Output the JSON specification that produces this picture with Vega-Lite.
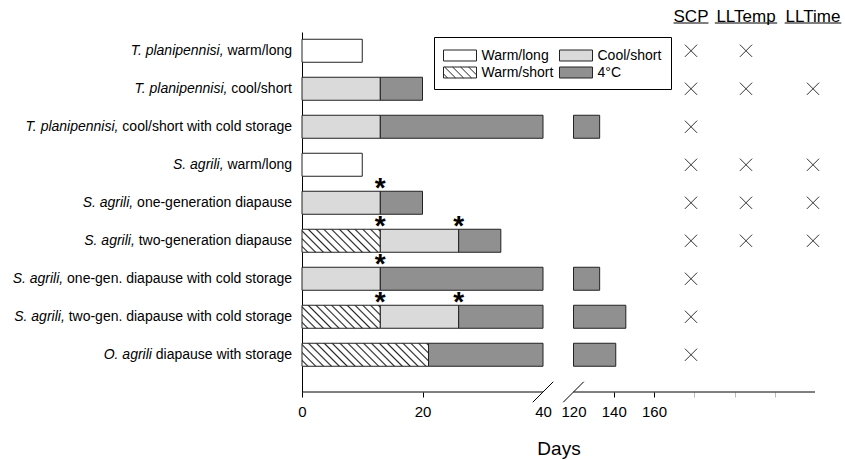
{
  "$schema": "https://vega.github.io/schema/vega-lite/v6.json",
  "width": 513,
  "height": 360,
  "autosize": {"type": "none"},
  "padding": {"left": 302, "top": 32, "right": 30, "bottom": 68},
  "background": "white",
  "config": {"view": {"stroke": null}, "font": "Liberation Sans"},
  "datasets": {
    "bars": [
      {"row": "T. planipennisi, warm/long", "phase": "Warm/long", "day": 0, "dayEnd": 10},
      {"row": "T. planipennisi, cool/short", "phase": "Cool/short", "day": 0, "dayEnd": 13},
      {"row": "T. planipennisi, cool/short", "phase": "4°C", "day": 13, "dayEnd": 20},
      {"row": "T. planipennisi, cool/short with cold storage", "phase": "Cool/short", "day": 0, "dayEnd": 13},
      {"row": "T. planipennisi, cool/short with cold storage", "phase": "4°C", "day": 13, "dayEnd": 40},
      {"row": "T. planipennisi, cool/short with cold storage", "phase": "4°C", "day": 120, "dayEnd": 133},
      {"row": "S. agrili, warm/long", "phase": "Warm/long", "day": 0, "dayEnd": 10},
      {"row": "S. agrili, one-generation diapause", "phase": "Cool/short", "day": 0, "dayEnd": 13},
      {"row": "S. agrili, one-generation diapause", "phase": "4°C", "day": 13, "dayEnd": 20},
      {"row": "S. agrili, two-generation diapause", "phase": "Warm/short", "day": 0, "dayEnd": 13},
      {"row": "S. agrili, two-generation diapause", "phase": "Cool/short", "day": 13, "dayEnd": 26},
      {"row": "S. agrili, two-generation diapause", "phase": "4°C", "day": 26, "dayEnd": 33},
      {"row": "S. agrili, one-gen. diapause with cold storage", "phase": "Cool/short", "day": 0, "dayEnd": 13},
      {"row": "S. agrili, one-gen. diapause with cold storage", "phase": "4°C", "day": 13, "dayEnd": 40},
      {"row": "S. agrili, one-gen. diapause with cold storage", "phase": "4°C", "day": 120, "dayEnd": 133},
      {"row": "S. agrili, two-gen. diapause with cold storage", "phase": "Warm/short", "day": 0, "dayEnd": 13},
      {"row": "S. agrili, two-gen. diapause with cold storage", "phase": "Cool/short", "day": 13, "dayEnd": 26},
      {"row": "S. agrili, two-gen. diapause with cold storage", "phase": "4°C", "day": 26, "dayEnd": 40},
      {"row": "S. agrili, two-gen. diapause with cold storage", "phase": "4°C", "day": 120, "dayEnd": 146},
      {"row": "O. agrili diapause with storage", "phase": "Warm/short", "day": 0, "dayEnd": 21},
      {"row": "O. agrili diapause with storage", "phase": "4°C", "day": 21, "dayEnd": 40},
      {"row": "O. agrili diapause with storage", "phase": "4°C", "day": 120, "dayEnd": 141}
    ],
    "labels": [
      {"row": "T. planipennisi, warm/long", "sp": "T. planipennisi,", "rest": "warm/long"},
      {"row": "T. planipennisi, cool/short", "sp": "T. planipennisi,", "rest": "cool/short"},
      {"row": "T. planipennisi, cool/short with cold storage", "sp": "T. planipennisi,", "rest": "cool/short with cold storage"},
      {"row": "S. agrili, warm/long", "sp": "S. agrili,", "rest": "warm/long"},
      {"row": "S. agrili, one-generation diapause", "sp": "S. agrili,", "rest": "one-generation diapause"},
      {"row": "S. agrili, two-generation diapause", "sp": "S. agrili,", "rest": "two-generation diapause"},
      {"row": "S. agrili, one-gen. diapause with cold storage", "sp": "S. agrili,", "rest": "one-gen. diapause with cold storage"},
      {"row": "S. agrili, two-gen. diapause with cold storage", "sp": "S. agrili,", "rest": "two-gen. diapause with cold storage"},
      {"row": "O. agrili diapause with storage", "sp": "O. agrili", "rest": "diapause with storage"}
    ],
    "stars": [
      {"row": "S. agrili, one-generation diapause", "day": 13},
      {"row": "S. agrili, two-generation diapause", "day": 13},
      {"row": "S. agrili, two-generation diapause", "day": 26},
      {"row": "S. agrili, one-gen. diapause with cold storage", "day": 13},
      {"row": "S. agrili, two-gen. diapause with cold storage", "day": 13},
      {"row": "S. agrili, two-gen. diapause with cold storage", "day": 26}
    ],
    "axisLine": [
      {"day": 0, "dayEnd": 40},
      {"day": 120, "dayEnd": 240}
    ],
    "breaks": [{"day": 40}, {"day": 120}],
    "xmarks": [
      {"row": "T. planipennisi, warm/long", "measure": "SCP", "col": 0},
      {"row": "T. planipennisi, warm/long", "measure": "LLTemp", "col": 1},
      {"row": "T. planipennisi, cool/short", "measure": "SCP", "col": 0},
      {"row": "T. planipennisi, cool/short", "measure": "LLTemp", "col": 1},
      {"row": "T. planipennisi, cool/short", "measure": "LLTime", "col": 2},
      {"row": "T. planipennisi, cool/short with cold storage", "measure": "SCP", "col": 0},
      {"row": "S. agrili, warm/long", "measure": "SCP", "col": 0},
      {"row": "S. agrili, warm/long", "measure": "LLTemp", "col": 1},
      {"row": "S. agrili, warm/long", "measure": "LLTime", "col": 2},
      {"row": "S. agrili, one-generation diapause", "measure": "SCP", "col": 0},
      {"row": "S. agrili, one-generation diapause", "measure": "LLTemp", "col": 1},
      {"row": "S. agrili, one-generation diapause", "measure": "LLTime", "col": 2},
      {"row": "S. agrili, two-generation diapause", "measure": "SCP", "col": 0},
      {"row": "S. agrili, two-generation diapause", "measure": "LLTemp", "col": 1},
      {"row": "S. agrili, two-generation diapause", "measure": "LLTime", "col": 2},
      {"row": "S. agrili, one-gen. diapause with cold storage", "measure": "SCP", "col": 0},
      {"row": "S. agrili, two-gen. diapause with cold storage", "measure": "SCP", "col": 0},
      {"row": "O. agrili diapause with storage", "measure": "SCP", "col": 0}
    ],
    "headers": [
      {"col": 0, "name": "SCP"},
      {"col": 1, "name": "LLTemp"},
      {"col": 2, "name": "LLTime"}
    ]
  },
  "encoding": {
    "y": {
      "field": "row",
      "type": "nominal",
      "scale": {
        "domain": [
          "T. planipennisi, warm/long",
          "T. planipennisi, cool/short",
          "T. planipennisi, cool/short with cold storage",
          "S. agrili, warm/long",
          "S. agrili, one-generation diapause",
          "S. agrili, two-generation diapause",
          "S. agrili, one-gen. diapause with cold storage",
          "S. agrili, two-gen. diapause with cold storage",
          "O. agrili diapause with storage"
        ],
        "paddingInner": 0.3947,
        "paddingOuter": 0.4342,
        "align": 0.22
      },
      "axis": {"labels": false, "ticks": false, "title": null, "grid": false, "domainColor": "black", "domainWidth": 1}
    }
  },
  "resolve": {"scale": {"x": "independent"}},
  "layer": [
    {
      "encoding": {
        "x": {
          "field": "day",
          "type": "quantitative",
          "scale": {"domain": [0, 40, 120, 240], "range": [0, 241, 271.5, 513]},
          "axis": {
            "values": [0, 20, 40, 120, 140, 160, 180, 200, 220],
            "labelExpr": "datum.value <= 160 ? datum.label : ''",
            "labelFlush": false,
            "labelOverlap": false,
            "domain": false,
            "grid": false,
            "tickSize": 5,
            "tickColor": {
              "condition": [
                {"test": "datum.value == 40 || datum.value == 120", "value": "transparent"},
                {"test": "datum.value > 160", "value": "#bbbbbb"}
              ],
              "value": "black"
            },
            "labelFont": "Liberation Sans",
            "labelFontSize": 15,
            "labelColor": "black",
            "labelPadding": 7,
            "title": "Days",
            "titleFont": "Liberation Sans",
            "titleFontSize": 19,
            "titleFontWeight": "normal",
            "titleColor": "black",
            "titlePadding": 20
          }
        }
      },
      "layer": [
        {
          "data": {"name": "bars"},
          "mark": {"type": "bar", "stroke": "#222222", "strokeWidth": 1},
          "encoding": {
            "x2": {"field": "dayEnd"},
            "fill": {
              "field": "phase",
              "type": "nominal",
              "scale": {
                "domain": ["Warm/long", "Cool/short", "Warm/short", "4°C"],
                "range": ["#ffffff", "#dadada", "#ffffff", "#909090"]
              },
              "legend": {
                "orient": "none",
                "legendX": 132,
                "legendY": 5,
                "columns": 2,
                "direction": "horizontal",
                "title": null,
                "symbolType": "M-1.833,-0.611H1.833V0.611H-1.833Z",
                "symbolSize": 324,
                "symbolOffset": 7.5,
                "symbolStrokeColor": "#222222",
                "symbolStrokeWidth": 1,
                "labelFont": "Liberation Sans",
                "labelFontSize": 14,
                "labelColor": "black",
                "labelOffset": 12,
                "labelLimit": 200,
                "strokeColor": "black",
                "fillColor": "white",
                "padding": 9,
                "columnPadding": 3,
                "rowPadding": 0,
                "encode": {
                  "symbols": {
                    "update": {
                      "stroke": {"value": "#222222"},
                      "strokeWidth": {"value": 1},
                      "opacity": {"value": 1},
                      "shape": {"signal": "datum.value === 'Warm/short' ? 'M-1.833,-0.611H1.833V0.611H-1.833Z M-1.833,0.156L-1.378,0.611 M-1.711,-0.611L-0.489,0.611 M-0.822,-0.611L0.4,0.611 M0.067,-0.611L1.289,0.611 M0.956,-0.611L1.833,0.266' : 'M-1.833,-0.611H1.833V0.611H-1.833Z'"}
                    }
                  }
                }
              },
              "condition": [
                {"test": "datum.phase === 'Warm/short' && datum.dayEnd > 15", "value": {"gradient": "linear", "x1": 0, "y1": 1, "x2": 1.144, "y2": 0.792, "stops": [
                  {"offset": 0, "color": "#ffffff"},
                  {"offset": 0.0289, "color": "#ffffff"}, {"offset": 0.0395, "color": "#222222"}, {"offset": 0.05, "color": "#ffffff"},
                  {"offset": 0.0816, "color": "#ffffff"}, {"offset": 0.0921, "color": "#222222"}, {"offset": 0.1026, "color": "#ffffff"},
                  {"offset": 0.1342, "color": "#ffffff"}, {"offset": 0.1447, "color": "#222222"}, {"offset": 0.1553, "color": "#ffffff"},
                  {"offset": 0.1868, "color": "#ffffff"}, {"offset": 0.1974, "color": "#222222"}, {"offset": 0.2079, "color": "#ffffff"},
                  {"offset": 0.2395, "color": "#ffffff"}, {"offset": 0.25, "color": "#222222"}, {"offset": 0.2605, "color": "#ffffff"},
                  {"offset": 0.2921, "color": "#ffffff"}, {"offset": 0.3026, "color": "#222222"}, {"offset": 0.3132, "color": "#ffffff"},
                  {"offset": 0.3447, "color": "#ffffff"}, {"offset": 0.3553, "color": "#222222"}, {"offset": 0.3658, "color": "#ffffff"},
                  {"offset": 0.3974, "color": "#ffffff"}, {"offset": 0.4079, "color": "#222222"}, {"offset": 0.4184, "color": "#ffffff"},
                  {"offset": 0.45, "color": "#ffffff"}, {"offset": 0.4605, "color": "#222222"}, {"offset": 0.4711, "color": "#ffffff"},
                  {"offset": 0.5026, "color": "#ffffff"}, {"offset": 0.5132, "color": "#222222"}, {"offset": 0.5237, "color": "#ffffff"},
                  {"offset": 0.5553, "color": "#ffffff"}, {"offset": 0.5658, "color": "#222222"}, {"offset": 0.5763, "color": "#ffffff"},
                  {"offset": 0.6079, "color": "#ffffff"}, {"offset": 0.6184, "color": "#222222"}, {"offset": 0.6289, "color": "#ffffff"},
                  {"offset": 0.6605, "color": "#ffffff"}, {"offset": 0.6711, "color": "#222222"}, {"offset": 0.6816, "color": "#ffffff"},
                  {"offset": 0.7132, "color": "#ffffff"}, {"offset": 0.7237, "color": "#222222"}, {"offset": 0.7342, "color": "#ffffff"},
                  {"offset": 0.7658, "color": "#ffffff"}, {"offset": 0.7763, "color": "#222222"}, {"offset": 0.7868, "color": "#ffffff"},
                  {"offset": 0.8184, "color": "#ffffff"}, {"offset": 0.8289, "color": "#222222"}, {"offset": 0.8395, "color": "#ffffff"},
                  {"offset": 0.8711, "color": "#ffffff"}, {"offset": 0.8816, "color": "#222222"}, {"offset": 0.8921, "color": "#ffffff"},
                  {"offset": 0.9237, "color": "#ffffff"}, {"offset": 0.9342, "color": "#222222"}, {"offset": 0.9447, "color": "#ffffff"},
                  {"offset": 0.9763, "color": "#ffffff"}, {"offset": 0.9868, "color": "#222222"}, {"offset": 0.9974, "color": "#ffffff"}
                ]}},
                {"test": "datum.phase === 'Warm/short'", "value": {"gradient": "linear", "x1": 0, "y1": 1, "x2": 1.191, "y2": 0.65, "stops": [
                  {"offset": 0, "color": "#ffffff"},
                  {"offset": 0.0423, "color": "#ffffff"}, {"offset": 0.0577, "color": "#222222"}, {"offset": 0.0731, "color": "#ffffff"},
                  {"offset": 0.1192, "color": "#ffffff"}, {"offset": 0.1346, "color": "#222222"}, {"offset": 0.15, "color": "#ffffff"},
                  {"offset": 0.1962, "color": "#ffffff"}, {"offset": 0.2115, "color": "#222222"}, {"offset": 0.2269, "color": "#ffffff"},
                  {"offset": 0.2731, "color": "#ffffff"}, {"offset": 0.2885, "color": "#222222"}, {"offset": 0.3038, "color": "#ffffff"},
                  {"offset": 0.35, "color": "#ffffff"}, {"offset": 0.3654, "color": "#222222"}, {"offset": 0.3808, "color": "#ffffff"},
                  {"offset": 0.4269, "color": "#ffffff"}, {"offset": 0.4423, "color": "#222222"}, {"offset": 0.4577, "color": "#ffffff"},
                  {"offset": 0.5038, "color": "#ffffff"}, {"offset": 0.5192, "color": "#222222"}, {"offset": 0.5346, "color": "#ffffff"},
                  {"offset": 0.5808, "color": "#ffffff"}, {"offset": 0.5962, "color": "#222222"}, {"offset": 0.6115, "color": "#ffffff"},
                  {"offset": 0.6577, "color": "#ffffff"}, {"offset": 0.6731, "color": "#222222"}, {"offset": 0.6885, "color": "#ffffff"},
                  {"offset": 0.7346, "color": "#ffffff"}, {"offset": 0.75, "color": "#222222"}, {"offset": 0.7654, "color": "#ffffff"},
                  {"offset": 0.8115, "color": "#ffffff"}, {"offset": 0.8269, "color": "#222222"}, {"offset": 0.8423, "color": "#ffffff"},
                  {"offset": 0.8885, "color": "#ffffff"}, {"offset": 0.9038, "color": "#222222"}, {"offset": 0.9192, "color": "#ffffff"},
                  {"offset": 0.9654, "color": "#ffffff"}, {"offset": 0.9808, "color": "#222222"}, {"offset": 0.9962, "color": "#ffffff"}
                ]}}
              ]
            }
          }
        },
        {
          "data": {"name": "stars"},
          "mark": {"type": "text", "text": "*", "fontSize": 28, "fontWeight": "bold", "baseline": "alphabetic", "dy": -6, "color": "black", "font": "Liberation Sans"}
        },
        {
          "data": {"name": "axisLine"},
          "mark": {"type": "rule", "color": "black", "strokeWidth": 1},
          "encoding": {"x2": {"field": "dayEnd"}, "y": {"value": "height"}}
        },
        {
          "data": {"name": "breaks"},
          "mark": {"type": "point", "shape": "M-1,1L1,-1", "size": 420, "filled": false, "color": "black", "strokeWidth": 1, "opacity": 1},
          "encoding": {"y": {"value": "height"}}
        },
        {
          "data": {"name": "labels"},
          "mark": {"type": "text", "align": "right", "baseline": "middle", "dx": -10, "fontSize": 14, "color": "black", "font": "Liberation Sans"},
          "encoding": {"x": {"value": 0}, "text": {"field": "rest"}}
        },
        {
          "data": {"name": "labels"},
          "transform": [
            {"calculate": "14 * (556 * length(datum.rest) - 334 * length(replace(datum.rest, regexp('[^il]', 'g'), '')) - 278 * length(replace(datum.rest, regexp('[^ /.,tf]', 'g'), '')) - 223 * length(replace(datum.rest, regexp('[^r-]', 'g'), '')) - 56 * length(replace(datum.rest, regexp('[^csvyk]', 'g'), '')) + 166 * length(replace(datum.rest, regexp('[^w]', 'g'), '')) + 277 * length(replace(datum.rest, regexp('[^m]', 'g'), ''))) / 1000", "as": "restWidth"},
            {"calculate": "-datum.restWidth - 3.9", "as": "lx"}
          ],
          "mark": {"type": "text", "align": "right", "baseline": "middle", "dx": -10, "fontSize": 14, "fontStyle": "italic", "color": "black", "font": "Liberation Sans"},
          "encoding": {"x": {"field": "lx", "type": "quantitative", "scale": null}, "text": {"field": "sp"}}
        }
      ]
    },
    {
      "encoding": {
        "x": {"field": "col", "type": "quantitative", "scale": {"domain": [0, 1, 2], "range": [389, 444, 511]}, "axis": null}
      },
      "layer": [
        {
          "data": {"name": "xmarks"},
          "mark": {"type": "point", "shape": "M-1,-1L1,1M-1,1L1,-1", "size": 150, "filled": false, "color": "#333333", "strokeWidth": 1, "opacity": 1}
        },
        {
          "data": {"name": "headers"},
          "mark": {"type": "text", "fontSize": 17, "baseline": "alphabetic", "align": "center", "color": "black", "font": "Liberation Sans"},
          "encoding": {"y": {"value": -10.5}, "text": {"field": "name"}}
        },
        {
          "data": {"name": "headers"},
          "transform": [
            {"calculate": "17 * (556 * length(datum.name) + 111 * length(replace(datum.name, regexp('[^SP]', 'g'), '')) + 166 * length(replace(datum.name, regexp('[^C]', 'g'), '')) + 55 * length(replace(datum.name, regexp('[^T]', 'g'), '')) + 277 * length(replace(datum.name, regexp('[^m]', 'g'), '')) - 334 * length(replace(datum.name, regexp('[^i]', 'g'), ''))) / 1000", "as": "underlineWidth"}
          ],
          "mark": {"type": "tick", "orient": "horizontal", "thickness": 1, "color": "black", "opacity": 1},
          "encoding": {"y": {"value": -9}, "size": {"field": "underlineWidth", "type": "quantitative", "scale": null}}
        }
      ]
    }
  ]
}
